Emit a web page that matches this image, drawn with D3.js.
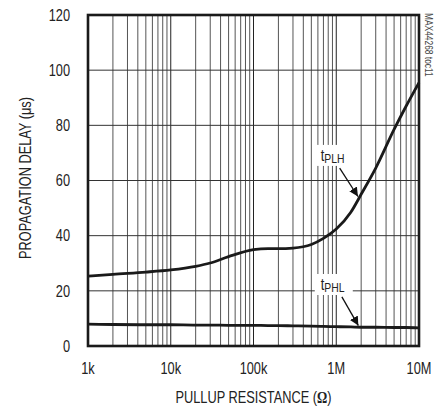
<!DOCTYPE html>
<html>
<head>
<meta charset="utf-8">
<script src="https://cdn.jsdelivr.net/npm/d3@7"></script>
<style>
  body { margin: 0; background: #fff; }
  text { font-family: "Liberation Sans Narrow", "Arial Narrow", "Liberation Sans", sans-serif; fill: #222; }
</style>
</head>
<body>
<div id="chart"></div>
<script>
// pullup resistance (ohm) and delays (us)
var resistance = [1e3, 2e3, 5e3, 1e4, 2e4, 3e4, 5e4, 1e5, 1.5e5, 2e5, 3e5, 5e5, 7e5, 1e6, 1.5e6, 2e6, 3e6, 5e6, 7e6, 1e7];
var tPLH = [25.3, 26.0, 26.8, 27.6, 28.9, 30.1, 32.4, 34.9, 35.3, 35.3, 35.5, 36.8, 39.0, 42.4, 48.5, 55.0, 64.5, 78.5, 87.0, 95.5];
var tPHL = [7.9, 7.8, 7.7, 7.7, 7.6, 7.6, 7.5, 7.5, 7.4, 7.4, 7.3, 7.2, 7.1, 7.0, 6.9, 6.8, 6.8, 6.7, 6.7, 6.6];
var xTicks = [1e3, 1e4, 1e5, 1e6, 1e7];
var xTickLabels = ["1k", "10k", "100k", "1M", "10M"];
var yTicks = [0, 20, 40, 60, 80, 100, 120];

var margin = {top: 15, right: 27, bottom: 62, left: 88};
var W = 446, H = 408;
var width = W - margin.left - margin.right;
var height = H - margin.top - margin.bottom;
var squeeze = 0.8; // fake a narrow face

var svg = d3.select("#chart").append("svg")
    .attr("width", W)
    .attr("height", H);

var chart = svg.append("g")
    .attr("transform", `translate(${margin.left},${margin.top})`);

var x = d3.scaleLog().domain([1e3, 1e7]).range([0, width]);
var y = d3.scaleLinear().domain([0, 120]).range([height, 0]);

// minor + major vertical grid
var vLines = [];
for (var dec = 1e3; dec < 1e7; dec *= 10) {
    for (var m = 2; m <= 9; m++) vLines.push(dec * m);
    if (dec > 1e3) vLines.push(dec);
}
chart.append("g").selectAll("line")
    .data(vLines)
    .enter().append("line")
    .attr("x1", function (d) { return x(d); })
    .attr("x2", function (d) { return x(d); })
    .attr("y1", 0)
    .attr("y2", height)
    .attr("stroke", function (d) {
        var k = Math.log10(d);
        return Math.abs(k - Math.round(k)) < 1e-9 ? "#222" : "#555";
    })
    .attr("stroke-width", 1);

chart.append("g").selectAll("line")
    .data(yTicks.filter(function (d) { return d > 0 && d < 120; }))
    .enter().append("line")
    .attr("x1", 0)
    .attr("x2", width)
    .attr("y1", function (d) { return y(d); })
    .attr("y2", function (d) { return y(d); })
    .attr("stroke", "#333")
    .attr("stroke-width", 1);

// curve labels: text anchor, arrow start and arrow tip (R, value)
var labels = [
    {name: "PLH", at: [6.5e5, 67.1], from: [1.1e6, 64.5], tip: [1.83e6, 54.2]},
    {name: "PHL", at: [6.5e5, 20.3], from: [1.17e6, 17.8], tip: [1.85e6, 7.4]}
];
// white boxes behind them
chart.append("g").selectAll("rect")
    .data(labels)
    .enter().append("rect")
    .attr("x", function (d) { return x(d.at[0]) - 6; })
    .attr("y", function (d) { return y(d.at[1]) - 16; })
    .attr("width", 38)
    .attr("height", 21)
    .attr("fill", "#fff");

var line = d3.line()
    .x(function (d) { return x(d[0]); })
    .y(function (d) { return y(d[1]); })
    .curve(d3.curveMonotoneX);

[tPLH, tPHL].forEach(function (s) {
    chart.append("path")
        .datum(resistance.map(function (r, i) { return [r, s[i]]; }))
        .attr("d", line)
        .attr("fill", "none")
        .attr("stroke", "#1a1a1a")
        .attr("stroke-width", 2.8);
});

svg.append("defs").append("marker")
    .attr("id", "arr")
    .attr("viewBox", "0 0 10 10")
    .attr("refX", 10).attr("refY", 5)
    .attr("markerWidth", 9).attr("markerHeight", 9)
    .attr("markerUnits", "userSpaceOnUse")
    .attr("orient", "auto")
    .append("path")
    .attr("d", "M0,0L10,5L0,10z")
    .attr("fill", "#111");

labels.forEach(function (d) {
    var t = chart.append("text")
        .attr("transform", `translate(${x(d.at[0])},${y(d.at[1])}) scale(${squeeze},1)`)
        .style("font-size", "16px");
    t.append("tspan").text("t");
    t.append("tspan").attr("dy", 2).style("font-size", "13px").text(d.name);
    chart.append("line")
        .attr("x1", x(d.from[0]))
        .attr("y1", y(d.from[1]))
        .attr("x2", x(d.tip[0]))
        .attr("y2", y(d.tip[1]))
        .attr("stroke", "#111")
        .attr("stroke-width", 1.3)
        .attr("marker-end", "url(#arr)");
});

// frame
chart.append("rect")
    .attr("width", width)
    .attr("height", height)
    .attr("fill", "none")
    .attr("stroke", "#1a1a1a")
    .attr("stroke-width", 2.6);

// tick labels
chart.append("g").selectAll("text")
    .data(yTicks)
    .enter().append("text")
    .attr("transform", function (d) { return `translate(-18,${y(d)}) scale(${squeeze},1)`; })
    .attr("dy", "0.36em")
    .attr("text-anchor", "end")
    .style("font-size", "16px")
    .text(function (d) { return d; });

chart.append("g").selectAll("text")
    .data(xTicks)
    .enter().append("text")
    .attr("transform", function (d) { return `translate(${x(d)},${height + 28}) scale(${squeeze},1)`; })
    .attr("text-anchor", "middle")
    .style("font-size", "16px")
    .text(function (d, i) { return xTickLabels[i]; });

// axis titles
var xt = svg.append("text")
    .attr("transform", `translate(${margin.left + width / 2},403) scale(${squeeze},1)`)
    .attr("text-anchor", "middle")
    .style("font-size", "16px");
xt.append("tspan").text("PULLUP RESISTANCE (");
xt.append("tspan").style("font-family", "'Liberation Serif', serif").style("font-weight", "bold").text("Ω");
xt.append("tspan").text(")");

svg.append("text")
    .attr("transform", `translate(31,${178}) rotate(-90) scale(${squeeze},1)`)
    .attr("text-anchor", "middle")
    .style("font-size", "16px")
    .text("PROPAGATION DELAY (μs)");

svg.append("text")
    .attr("transform", `translate(${margin.left + width + 6},13) rotate(90) scale(${squeeze},1)`)
    .attr("text-anchor", "start")
    .style("font-size", "10.5px")
    .style("fill", "#444")
    .text("MAX44268 toc11");
</script>
</body>
</html>
